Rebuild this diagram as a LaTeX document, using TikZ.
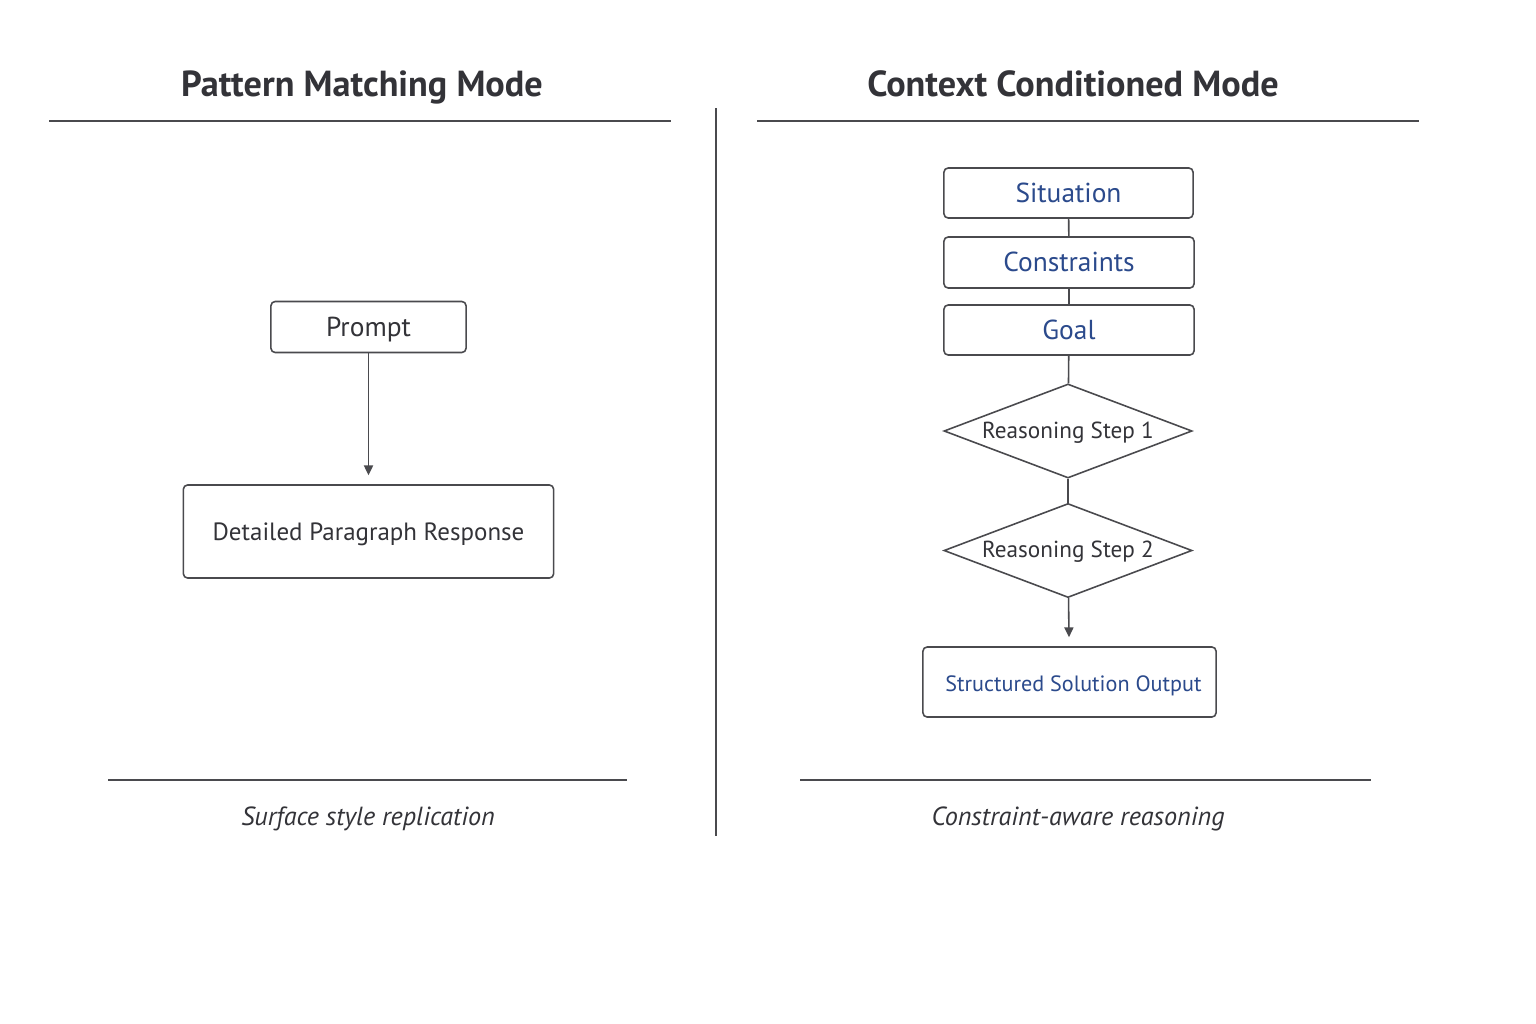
\documentclass[tikz,border=0pt]{standalone}
\usepackage{fontspec}
\setmainfont{PT Sans}
\usetikzlibrary{arrows.meta}
\usetikzlibrary{shapes.geometric}

\definecolor{ink}{HTML}{333338}
\definecolor{edge}{HTML}{4A4A4E}
\definecolor{navy}{HTML}{2B4A8C}

\begin{document}
\begin{tikzpicture}[x=0.01cm,y=-0.01cm,
  box/.style={draw=edge,line width=0.45pt,rounded corners=1.2pt,inner sep=0pt,text=ink,text height=1.05ex,text depth=0pt,font=\fontsize{7.8}{9}\selectfont},
  bluebox/.style={box,text=navy},
  stepdiamond/.style={draw=edge,line width=0.45pt,diamond,aspect=2.64,inner sep=0pt,minimum width=2.48cm,minimum height=0.94cm,text=ink,text height=0.8ex,text depth=0pt,font=\fontsize{6.6}{8}\selectfont},
  heading/.style={text=ink,anchor=base,font=\fontsize{10.3}{12}\selectfont\bfseries},
  caption/.style={text=ink,anchor=base,font=\fontsize{7.45}{9}\selectfont\itshape},
  rule/.style={edge,line width=0.45pt},
  link/.style={edge,line width=0.45pt},
  flow/.style={edge,line width=0.45pt,-{Triangle[length=2.8pt,width=2.6pt]},shorten >=2.55pt}]

\useasboundingbox[fill=white] (0,0) rectangle (1536,1024);

% headings
\node[heading] (lefttitle) at (362,97) {Pattern Matching Mode};
\node[heading] (righttitle) at (1073,97) {Context Conditioned Mode};
\draw[rule] (49,121) -- (671,121);
\draw[rule] (757,121) -- (1419,121);

% divider
\draw[rule] (716,108) -- (716,836);

% left side
\node[box,minimum width=1.95cm,minimum height=0.51cm] (prompt) at (368.5,327) {Prompt};
\node[box,minimum width=3.70cm,minimum height=0.93cm,font=\fontsize{7.1}{9}\selectfont] (para) at (368.5,531.5) {Detailed Paragraph Response};
\draw[flow] (prompt) -- (para);

% right side
\node[bluebox,minimum width=2.49cm,minimum height=0.50cm] (situation) at (1068.5,193) {Situation};
\node[bluebox,minimum width=2.50cm,minimum height=0.51cm] (constraints) at (1069,262.5) {Constraints};
\node[bluebox,minimum width=2.50cm,minimum height=0.50cm] (goal) at (1069,330) {Goal};
\node[stepdiamond] (stepone) at (1068,431) {Reasoning Step 1};
\node[stepdiamond] (steptwo) at (1068,550.5) {Reasoning Step 2};
\node[bluebox,minimum width=2.93cm,minimum height=0.70cm,font=\fontsize{6.3}{8}\selectfont] (output) at (1069.5,682) {\hspace{0.08cm}Structured Solution Output};

\draw[link] (situation) -- (constraints);
\draw[link] (constraints) -- (goal);
\draw[link] (goal) -- (stepone);
\draw[link] (stepone) -- (steptwo);
\draw[flow] (steptwo) -- (output);

% captions
\draw[rule] (108,780) -- (627,780);
\draw[rule] (800,780) -- (1371,780);
\node[caption] (leftcap) at (368,825) {Surface style replication};
\node[caption] (rightcap) at (1078,825) {Constraint-aware reasoning};

\end{tikzpicture}
\end{document}
